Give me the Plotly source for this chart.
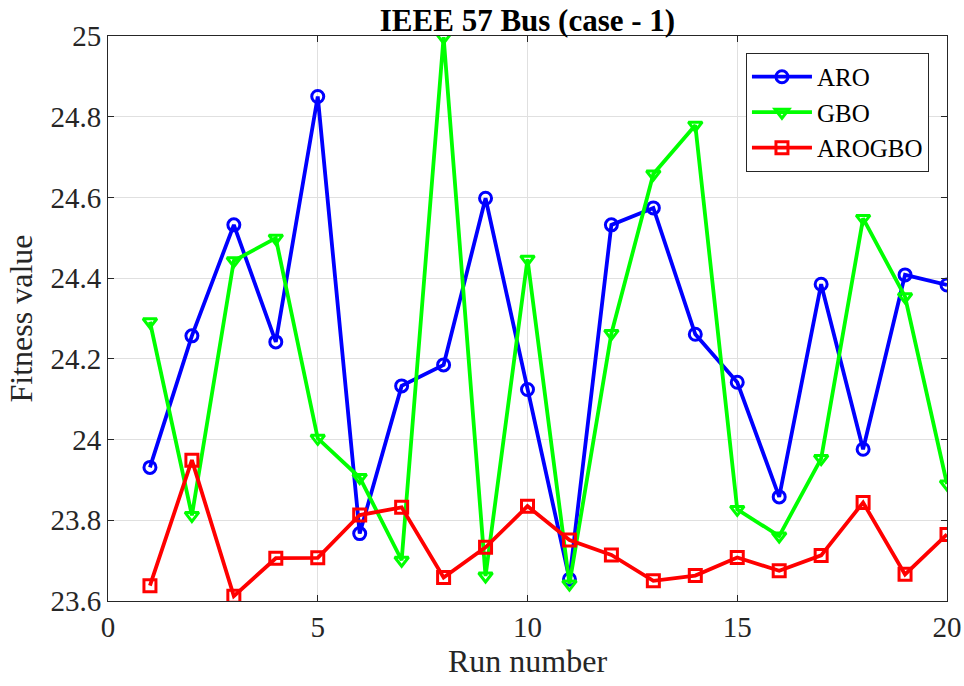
import plotly.graph_objects as go

runs = list(range(1, 21))

aro = [23.931, 24.257, 24.532, 24.242, 24.850, 23.767, 24.133, 24.185, 24.598, 24.124,
       23.654, 24.532, 24.574, 24.261, 24.142, 23.858, 24.385, 23.976, 24.408, 24.383]
gbo = [24.292, 23.812, 24.443, 24.499, 24.003, 23.906, 23.701, 24.997, 23.662, 24.447,
       23.642, 24.263, 24.658, 24.779, 23.827, 23.761, 23.953, 24.548, 24.354, 23.890]
arogbo = [23.638, 23.949, 23.612, 23.706, 23.707, 23.813, 23.832, 23.658, 23.733, 23.835,
          23.751, 23.714, 23.650, 23.663, 23.708, 23.675, 23.713, 23.844, 23.666, 23.765]

series = [
    ("ARO", aro, "#0000ff", "circle-open"),
    ("GBO", gbo, "#00ff00", "triangle-down-open"),
    ("AROGBO", arogbo, "#ff0000", "square-open"),
]

x_ticks = [0, 5, 10, 15, 20]
y_ticks = [23.6, 23.8, 24.0, 24.2, 24.4, 24.6, 24.8, 25.0]
y_tick_text = ["23.6", "23.8", "24", "24.2", "24.4", "24.6", "24.8", "25"]

FONT = "Liberation Serif, Times New Roman, serif"

fig = go.Figure()
for name, vals, color, symbol in series:
    fig.add_trace(go.Scatter(
        x=runs, y=vals, name=name, mode="lines+markers",
        line=dict(color=color, width=3.8),
        marker=dict(symbol=symbol, size=12, color=color,
                    line=dict(color=color, width=3)),
    ))

axis_common = dict(
    showline=True, linecolor="#262626", linewidth=1, mirror="ticks",
    ticks="inside", ticklen=6, tickcolor="#262626",
    showgrid=True, gridcolor="#e0e0e0", gridwidth=1,
    zeroline=False, automargin=False,
    tickfont=dict(family=FONT, size=29, color="#262626"),
)

fig.update_layout(
    width=964, height=686,
    margin=dict(l=108, r=17, t=36, b=85),
    paper_bgcolor="white", plot_bgcolor="white",
    title=dict(text="<b>IEEE 57 Bus (case - 1)</b>", x=0.5, xanchor="center",
               xref="paper", y=0.971, yref="container", yanchor="middle",
               font=dict(family=FONT, size=31, color="black")),
    xaxis=dict(range=[0, 20], tickvals=x_ticks,
               title=dict(text="Run number", standoff=2,
                          font=dict(family=FONT, size=32, color="#262626")),
               **axis_common),
    yaxis=dict(range=[23.6, 25.0], tickvals=y_ticks, ticktext=y_tick_text,
               title=dict(text="Fitness value", standoff=8,
                          font=dict(family=FONT, size=32, color="#262626")),
               **axis_common),
    legend=dict(x=0.9785, y=0.970, xanchor="right", yanchor="top",
                bordercolor="#262626", borderwidth=1, bgcolor="white",
                font=dict(family=FONT, size=25, color="black"),
                itemwidth=60, tracegroupgap=0),
    showlegend=True,
)

fig.write_html("out.html")
